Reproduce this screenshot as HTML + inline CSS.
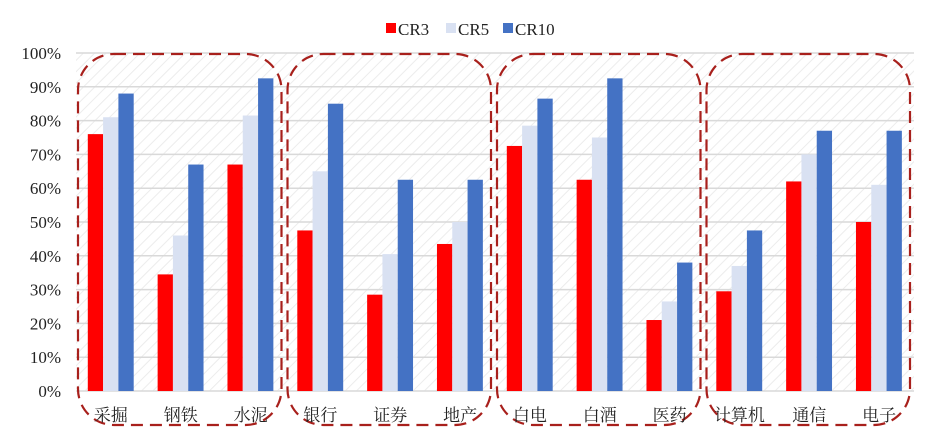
<!DOCTYPE html>
<html><head><meta charset="utf-8">
<style>
html,body{margin:0;padding:0;background:#fff;width:936px;height:442px;overflow:hidden}
svg{display:block}
text{font-family:"Liberation Serif","Noto Serif CJK SC",serif;fill:#222}
</style></head>
<body>
<svg id="chart" width="936" height="442" xmlns="http://www.w3.org/2000/svg">
<defs>
<pattern id="hatch" width="8" height="8" patternUnits="userSpaceOnUse" patternTransform="rotate(45)">
<rect width="8" height="8" fill="#fff"/>
<line x1="0" y1="0" x2="0" y2="8" stroke="#ececec" stroke-width="2"/>
</pattern>
</defs>
<rect x="76" y="53" width="838" height="338" fill="url(#hatch)"/>
<g id="grid"></g>
<g id="bars"></g>
<g id="groups"></g>
<g id="ylabels"></g>
<g id="xlabels"></g>
<g>
<rect x="386" y="23" width="10" height="10" fill="#ff0000"/>
<text x="398" y="35" font-size="17">CR3</text>
<rect x="446" y="23" width="10" height="10" fill="#d9e1f2"/>
<text x="458" y="35" font-size="17">CR5</text>
<rect x="503" y="23" width="10" height="10" fill="#4472c4"/>
<text x="515" y="35" font-size="17">CR10</text>
</g>
</svg>
<script>
const categories=["采掘","钢铁","水泥","银行","证券","地产","白电","白酒","医药","计算机","通信","电子"];
const cr3=[76,34.5,67,47.5,28.5,43.5,72.5,62.5,21,29.5,62,50];
const cr5=[81,46,81.5,65,40.5,50,78.5,75,26.5,37,70,61];
const cr10=[88,67,92.5,85,62.5,62.5,86.5,92.5,38,47.5,77,77];
const yTicks=[0,10,20,30,40,50,60,70,80,90,100];
const NS="http://www.w3.org/2000/svg";
const X0=76,X1=914,Y0=391,Y1=53;
const cw=(X1-X0)/categories.length;
function y(v){return Y0-(v/100)*(Y0-Y1);}
function xc(i){return X0+cw*i;}
function mk(tag,attrs,parent){const e=document.createElementNS(NS,tag);for(const k in attrs)e.setAttribute(k,attrs[k]);parent.appendChild(e);return e;}
const grid=document.getElementById('grid'),yl=document.getElementById('ylabels');
yTicks.forEach(t=>{
  const l=mk('line',{x1:X0,x2:X1,y1:y(t),y2:y(t),stroke:'#d9d9d9','stroke-width':1.5},grid);
  
  
  const tx=mk('text',{x:61,y:y(t)+6,'font-size':17,'text-anchor':'end'},yl);
  tx.textContent=t+'%';
  
  
});
const bars=document.getElementById('bars');
const series=[[cr3,'#ff0000','cr3'],[cr5,'#d9e1f2','cr5'],[cr10,'#4472c4','cr10']];
const bw=15.3,off=11.8;
categories.forEach((c,i)=>{
  series.forEach((s,j)=>{
    const v=s[0][i];
    const r=mk('rect',{x:xc(i)+off+j*bw,y:y(v),width:bw,height:Y0-y(v),fill:s[1]},bars);
    
    
  });
  const t=mk('text',{x:xc(i)+cw/2,y:421,'font-size':17,'text-anchor':'middle'},document.getElementById('xlabels'));
  t.textContent=c;
  
  
});
const groups=document.getElementById('groups');
for(let g=0;g<4;g++){
  const gx=xc(g*3);
  const r=mk('rect',{x:gx+2,y:54,width:cw*3-6,height:371,rx:36,ry:36,fill:'none',stroke:'#a8201c','stroke-width':2.2,'stroke-dasharray':'12,7'},groups);
  
  
}
</script>
</body></html>
